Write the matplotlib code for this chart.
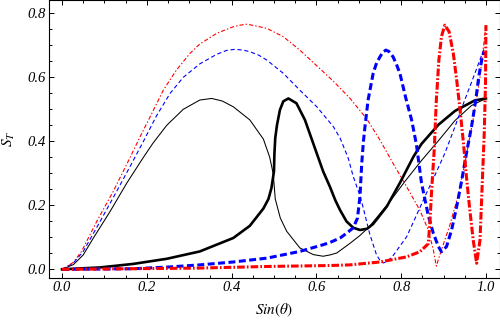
import numpy as np
import matplotlib
matplotlib.use("Agg")
import matplotlib.pyplot as plt
from matplotlib.ticker import MultipleLocator

# values
thin_black_x = [0, 0.027, 0.05, 0.074, 0.113, 0.153, 0.192, 0.215, 0.247, 0.286, 0.325, 0.353,
                0.378, 0.404, 0.443, 0.475, 0.49, 0.498, 0.5, 0.503, 0.515, 0.53, 0.561, 0.593,
                0.616, 0.632, 0.648, 0.679, 0.703, 0.726, 0.774, 0.809, 0.848, 0.888, 0.927,
                0.966, 1.0]
thin_black_y = [0, 0.015, 0.045, 0.098, 0.18, 0.27, 0.35, 0.395, 0.45, 0.50, 0.529, 0.534,
                0.526, 0.508, 0.467, 0.407, 0.35, 0.30, 0.27, 0.22, 0.16, 0.119, 0.067, 0.046,
                0.041, 0.045, 0.051, 0.081, 0.106, 0.135, 0.213, 0.275, 0.34, 0.402, 0.465,
                0.512, 0.534]

thick_black_x = [0, 0.09, 0.168, 0.247, 0.325, 0.404, 0.443, 0.459, 0.475, 0.487, 0.494, 0.5,
                 0.501, 0.503, 0.507, 0.514, 0.522, 0.534, 0.553, 0.573, 0.589, 0.616, 0.632,
                 0.645, 0.656, 0.671, 0.687, 0.703, 0.72, 0.734, 0.766, 0.797, 0.829, 0.848,
                 0.888, 0.927, 0.974, 1.0]
thick_black_y = [0, 0.006, 0.017, 0.033, 0.056, 0.098, 0.136, 0.163, 0.19, 0.22, 0.254, 0.306,
                 0.36, 0.41, 0.45, 0.498, 0.525, 0.534, 0.519, 0.467, 0.407, 0.306, 0.258,
                 0.215, 0.185, 0.15, 0.13, 0.123, 0.127, 0.142, 0.196, 0.27, 0.352, 0.392,
                 0.452, 0.495, 0.528, 0.534]

thin_blue_x = [0, 0.027, 0.05, 0.09, 0.129, 0.164, 0.192, 0.223, 0.255, 0.286, 0.325, 0.365,
               0.388, 0.408, 0.428, 0.443, 0.463, 0.483, 0.522, 0.561, 0.601, 0.64, 0.656, 0.675,
               0.687, 0.703, 0.711, 0.726, 0.742, 0.752, 0.758, 0.768, 0.781, 0.813, 0.833,
               0.856, 0.88, 0.903, 0.927, 0.95, 0.974, 0.995]
thin_blue_y = [0, 0.02, 0.056, 0.15, 0.244, 0.33, 0.40, 0.48, 0.55, 0.60, 0.642, 0.672,
               0.684, 0.6875, 0.685, 0.68, 0.67, 0.654, 0.6125, 0.56, 0.508, 0.446, 0.41, 0.348,
               0.29, 0.23, 0.19, 0.11, 0.045, 0.024, 0.02, 0.025, 0.043, 0.102, 0.16,
               0.2275, 0.295, 0.3625, 0.446, 0.529, 0.6125, 0.6875]

thick_blue_x = [0, 0.168, 0.247, 0.325, 0.404, 0.483, 0.561, 0.616, 0.632, 0.656, 0.671, 0.687,
                0.697, 0.703, 0.707, 0.711, 0.715, 0.722, 0.734, 0.742, 0.75, 0.757, 0.764,
                0.771, 0.781, 0.789, 0.797, 0.811, 0.825, 0.836, 0.848, 0.864, 0.876, 0.888,
                0.895, 0.907, 0.919, 0.931, 0.943, 0.954, 0.966, 0.976, 0.983, 0.99, 0.995]
thick_blue_y = [0, 0.002, 0.007, 0.014, 0.023, 0.035, 0.056, 0.077, 0.084, 0.098, 0.1125, 0.13,
                0.16, 0.23, 0.33, 0.40, 0.45, 0.529, 0.6125, 0.645, 0.664, 0.679, 0.685,
                0.681, 0.664, 0.64, 0.6125, 0.535, 0.465, 0.39, 0.27, 0.168, 0.112, 0.071,
                0.055, 0.071, 0.123, 0.196, 0.279, 0.3625, 0.446, 0.529, 0.602, 0.654, 0.68]

thin_red_x = [0, 0.027, 0.046, 0.082, 0.121, 0.16, 0.184, 0.208, 0.239, 0.27, 0.302, 0.325,
              0.365, 0.404, 0.42, 0.436, 0.459, 0.483, 0.522, 0.561, 0.601, 0.64, 0.679, 0.719,
              0.75, 0.781, 0.813, 0.844, 0.864, 0.876, 0.883, 0.89, 0.9, 0.915, 0.935, 0.95,
              0.97, 0.986, 1.0]
thin_red_y = [0, 0.022, 0.056, 0.15, 0.244, 0.348, 0.414, 0.477, 0.56, 0.623, 0.675, 0.704,
              0.7375, 0.758, 0.763, 0.766, 0.76, 0.753, 0.727, 0.685, 0.636, 0.588, 0.535, 0.47,
              0.404, 0.331, 0.258, 0.185, 0.123, 0.06, 0.01, 0.04, 0.08, 0.139, 0.233, 0.33,
              0.47, 0.60, 0.763]

thick_red_x = [0, 0.325, 0.483, 0.632, 0.679, 0.75, 0.813, 0.844, 0.864, 0.868, 0.872, 0.878,
               0.883, 0.889, 0.895, 0.903, 0.913, 0.923, 0.931, 0.939, 0.947, 0.954, 0.962,
               0.97, 0.978, 0.986, 0.991, 0.996, 0.999, 1.0]
thick_red_y = [0, 0.004, 0.009, 0.012, 0.014, 0.023, 0.039, 0.055, 0.08, 0.15, 0.25, 0.373,
               0.529, 0.654, 0.727, 0.763, 0.743, 0.675, 0.5915, 0.498, 0.394, 0.289, 0.185,
               0.0915, 0.019, 0.0915, 0.258, 0.425, 0.581, 0.763]

plt.rcParams['mathtext.fontset'] = 'stix'
plt.rcParams['lines.scale_dashes'] = False

fig = plt.figure(figsize=(5, 3.26), dpi=100)
ax = fig.add_axes([49 / 500, 1 - 278 / 326, 450.5 / 500, 278 / 326])

ax.plot(thin_black_x, thin_black_y, color='black', lw=0.75)
ax.plot(thin_blue_x, thin_blue_y, color='blue', lw=0.8, dashes=(3, 2))
ax.plot(thin_red_x, thin_red_y, color='red', lw=0.8, dashes=(3, 1.5, 1, 1.5))
ax.plot(thick_black_x, thick_black_y, color='black', lw=1.9)
ax.plot(thick_blue_x, thick_blue_y, color='blue', lw=2.2, dashes=(5, 2.5))
ax.plot(thick_red_x, thick_red_y, color='red', lw=2.2, dashes=(5.5, 1.5, 1.2, 1.5))

ax.set_xlim(-0.0307, 1.032)
ax.set_ylim(-0.027, 0.8416)

ax.xaxis.set_major_locator(MultipleLocator(0.2))
ax.xaxis.set_minor_locator(MultipleLocator(0.05))
ax.yaxis.set_major_locator(MultipleLocator(0.2))
ax.yaxis.set_minor_locator(MultipleLocator(0.05))
ax.tick_params(which='both', direction='in', top=True, right=True, width=0.7)
ax.tick_params(which='major', length=3.8, pad=2.5)
ax.tick_params(which='minor', length=2.2)
for sp in ax.spines.values():
    sp.set_linewidth(0.8)

ax.set_xticklabels([f'{v:.1f}' for v in ax.get_xticks()])
ax.set_yticklabels([f'{v:.1f}' for v in ax.get_yticks()])
for lab in ax.get_xticklabels() + ax.get_yticklabels():
    lab.set_fontfamily('Liberation Serif')
    lab.set_fontstyle('italic')
    lab.set_fontsize(10.5)

ax.set_xlabel(r'$Sin(\theta)$', fontsize=11)
ax.xaxis.set_label_coords(0.5, -0.085)
ax.set_ylabel(r'$S_T$', fontsize=11)
ax.yaxis.set_label_coords(-0.071, 0.5)

fig.savefig('out.png', dpi=100)
